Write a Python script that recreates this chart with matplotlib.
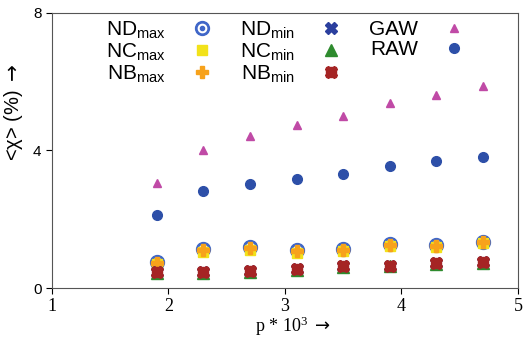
import matplotlib
matplotlib.use("Agg")
import matplotlib.pyplot as plt
from matplotlib.legend_handler import HandlerTuple

plt.rcParams['font.family'] = ['Liberation Sans', 'DejaVu Sans']
plt.rcParams['mathtext.fontset'] = 'custom'
plt.rcParams['mathtext.rm'] = 'Liberation Serif'
plt.rcParams['mathtext.sf'] = 'Liberation Sans'
plt.rcParams['mathtext.it'] = 'Liberation Serif:italic'
plt.rcParams['mathtext.tt'] = 'DejaVu Sans'

p = [1.9, 2.3, 2.7, 3.1, 3.5, 3.9, 4.3, 4.7]
gaw = [3.05, 4.0, 4.42, 4.74, 5.0, 5.38, 5.61, 5.87]
raw = [2.12, 2.82, 3.02, 3.17, 3.31, 3.55, 3.69, 3.81]
nd_max = [0.76, 1.13, 1.19, 1.10, 1.13, 1.28, 1.25, 1.33]
nc_max = [0.70, 1.06, 1.12, 1.02, 1.07, 1.22, 1.19, 1.30]
nb_max = [0.74, 1.10, 1.16, 1.07, 1.11, 1.26, 1.23, 1.33]
nd_min = [0.47, 0.46, 0.49, 0.55, 0.64, 0.65, 0.72, 0.76]
nc_min = [0.45, 0.44, 0.47, 0.53, 0.62, 0.63, 0.70, 0.74]
nb_min = [0.47, 0.46, 0.49, 0.55, 0.64, 0.65, 0.72, 0.76]

fig = plt.figure(figsize=(5.29, 3.41), dpi=100)
ax = fig.add_axes([0.0983, 0.1554, 0.8807, 0.8066])

blue_l = '#3f66c8'
h_gaw, = ax.plot(p, gaw, linestyle='none', marker='^', ms=6, color='#c04aa6', mec='#c04aa6')
h_raw, = ax.plot(p, raw, linestyle='none', marker='o', ms=7, color='#2d4fa8', mec='#2d4fa8')
h_ndmax1, = ax.plot(p, nd_max, linestyle='none', marker='o', ms=10, color=blue_l, mec=blue_l)
h_ndmax2, = ax.plot(p, nd_max, linestyle='none', marker='o', ms=6, color='white', mec='white')
h_ndmax3, = ax.plot(p, nd_max, linestyle='none', marker='o', ms=3, color=blue_l, mec=blue_l)
h_ncmax, = ax.plot(p, nc_max, linestyle='none', marker='s', ms=7, color='#f2e21a', mec='#f2e21a')
h_nbmax, = ax.plot(p, nb_max, linestyle='none', marker='P', ms=8, color='#f7a21b', mec='#f7a21b')
h_ndmin, = ax.plot(p, nd_min, linestyle='none', marker='X', ms=8, color='#2b3f9e', mec='#2b3f9e')
h_ncmin, = ax.plot(p, nc_min, linestyle='none', marker='^', ms=9, color='#2e8b2e', mec='#2e8b2e')
h_nbmin1, = ax.plot(p, nb_min, linestyle='none', marker='s', ms=7, color='#a52424', mec='#a52424')
h_nbmin2, = ax.plot(p, nb_min, linestyle='none', marker='X', ms=9, color='#a52424', mec='#a52424')

ax.set_xlim(1, 5)
ax.set_ylim(0, 8)
ax.set_xticks([1, 2, 3, 4, 5])
ax.set_yticks([0, 4, 8])
ax.tick_params(axis='y', labelsize=11, length=4, direction='out')
ax.tick_params(axis='x', length=4, direction='out')
for lab in ax.get_xticklabels():
    lab.set_fontfamily(['Liberation Serif'])
    lab.set_fontsize(13)
for s in ax.spines.values():
    s.set_color('#555555')

ax.set_xlabel('p * 10$^{\\mathrm{3}}$ $\\mathtt{\\rightarrow}$', fontsize=13,
              fontfamily=['Liberation Serif', 'DejaVu Sans'])
ax.xaxis.set_label_coords(0.517, -0.098)
ax.set_ylabel('<χ> (%) $\\mathtt{\\rightarrow}$', fontsize=14.5,
              fontfamily=['Liberation Sans', 'DejaVu Sans'])
ax.yaxis.set_label_coords(-0.058, 0.64)

handles = [(h_ndmax1, h_ndmax2, h_ndmax3), h_ncmax, h_nbmax,
           h_ndmin, h_ncmin, (h_nbmin1, h_nbmin2),
           h_gaw, h_raw]
labels = ['ND$_{\\mathsf{max}}$', 'NC$_{\\mathsf{max}}$', 'NB$_{\\mathsf{max}}$',
          'ND$_{\\mathsf{min}}$', 'NC$_{\\mathsf{min}}$', 'NB$_{\\mathsf{min}}$',
          'GAW', 'RAW']
ax.legend(handles, labels, ncol=3, markerfirst=False, frameon=False,
          loc='upper left', bbox_to_anchor=(0.085, 1.03), fontsize=15,
          handler_map={tuple: HandlerTuple(ndivide=1, pad=0)},
          labelspacing=0.04, columnspacing=1.05, handletextpad=1.0,
          handlelength=1.5, borderpad=0.2)

fig.savefig('out.png', dpi=100)
